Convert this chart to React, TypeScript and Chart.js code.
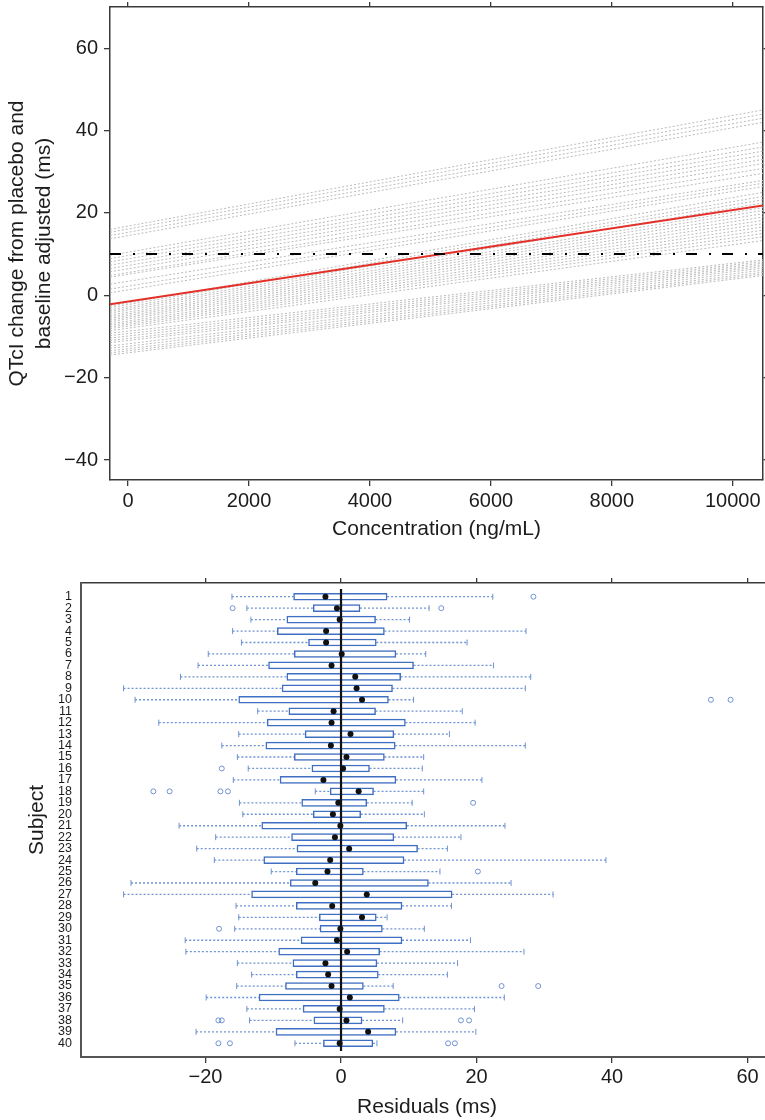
import React, { useEffect, useRef } from 'react';
import { Chart, registerables } from 'chart.js';

Chart.register(...registerables);

// ---------- Top panel data ----------
const concEnds = [-300, 10500];
const concTicks = [0, 2000, 4000, 6000, 8000, 10000];
const qtTicks = [-40, -20, 0, 20, 40, 60];
// individual subject regression lines: value at left end / right end of the concentration range
const grayLeft = [
  16.0, 15.3, 14.5, 13.7,
  9.7, 8.9, 8.1, 7.3, 6.5, 5.7, 4.8, 4.4,
  2.7, 1.5, 0.6,
  -2.6, -3.0, -3.5, -3.9, -4.3, -4.8, -5.2, -5.6, -6.0, -6.4, -6.9, -7.3, -7.7, -8.1, -8.6,
  -9.2, -9.8, -10.4, -11.0, -11.5, -12.3, -12.9, -13.5, -14.0, -14.5,
];
const grayRight = [
  45.0, 44.0, 43.0, 42.0,
  37.2, 36.0, 35.0, 34.0, 33.0, 32.0, 30.8, 29.6,
  27.9, 27.2, 26.4,
  25.0, 24.0, 23.2, 22.4, 21.3, 20.6, 19.8, 19.0, 18.2, 17.4, 16.6, 15.8, 15.0, 14.2, 13.3,
  8.6, 8.2, 7.8, 7.4, 7.0, 6.6, 6.1, 5.6, 5.2, 4.8,
];
const popLine = [-2.2, 21.8];
const thresholdLine = [10, 10];

// ---------- Bottom panel data ----------
const subjects = [
  1, 2, 3, 4, 5, 6, 7, 8, 9, 10, 11, 12, 13, 14, 15, 16, 17, 18, 19, 20,
  21, 22, 23, 24, 25, 26, 27, 28, 29, 30, 31, 32, 33, 34, 35, 36, 37, 38, 39, 40,
];
const whiskLo = [
  -16.1, -13.9, -13.3, -16.0, -14.7, -19.6, -21.1, -23.7, -32.1, -30.4,
  -12.3, -26.9, -15.1, -17.6, -15.3, -13.7, -15.9, -3.8, -15.0, -14.5,
  -23.9, -18.5, -21.3, -18.7, -10.3, -31.0, -32.1, -15.5, -15.1, -15.7,
  -23.0, -22.9, -15.3, -13.2, -15.4, -19.9, -13.9, -13.5, -21.4, -6.8,
];
const q1 = [
  -7.0, -4.1, -8.0, -9.4, -4.8, -6.9, -10.7, -8.0, -8.7, -15.1,
  -7.7, -10.9, -5.3, -11.1, -6.9, -4.3, -9.0, -1.6, -5.8, -4.1,
  -11.7, -7.3, -6.5, -11.4, -6.6, -7.5, -13.2, -6.6, -3.2, -3.1,
  -5.9, -9.2, -7.1, -6.6, -8.2, -12.1, -5.6, -4.0, -9.6, -2.6,
];
const medians = [
  -2.3, -0.6, -0.2, -2.2, -2.2, 0.1, -1.4, 2.1, 2.3, 3.1,
  -1.1, -1.4, 1.4, -1.5, 0.8, 0.3, -2.6, 2.6, -0.4, -1.2,
  -0.1, -0.9, 1.2, -1.6, -2.0, -3.8, 3.8, -1.3, 3.1, -0.1,
  -0.6, 0.9, -2.3, -1.9, -1.4, 1.3, -0.2, 0.8, 4.0, -0.2,
];
const q3 = [
  6.8, 2.8, 5.1, 6.4, 5.2, 8.1, 10.7, 8.8, 7.6, 7.0,
  5.1, 9.5, 7.8, 8.0, 6.4, 4.2, 8.1, 4.8, 3.8, 2.9,
  9.7, 7.8, 11.3, 9.3, 3.3, 12.9, 16.4, 9.0, 5.2, 6.1,
  9.0, 5.7, 5.3, 5.5, 3.3, 8.6, 6.4, 3.1, 8.1, 4.7,
];
const whiskHi = [
  22.4, 13.0, 10.1, 27.3, 18.6, 12.5, 22.5, 28.0, 27.2, 10.7,
  17.9, 19.8, 16.0, 27.2, 12.2, 12.0, 20.8, 12.2, 10.5, 12.3,
  24.2, 17.7, 15.7, 39.1, 14.6, 25.1, 31.3, 16.3, 6.8, 12.3,
  19.1, 27.0, 17.2, 15.7, 7.7, 24.1, 19.7, 9.1, 19.9, 5.3,
];
const outlierSubject = [1, 2, 2, 10, 10, 16, 18, 18, 18, 18, 19, 25, 30, 35, 35, 38, 38, 38, 38, 40, 40, 40, 40];
const outlierValue = [28.4, -16.0, 14.8, 54.6, 57.5, -17.6, -27.7, -25.3, -17.8, -16.7, 19.5, 20.2, -18.0, 23.7, 29.1, -18.1, -17.6, 17.7, 18.9, -18.1, -16.4, 15.8, 16.8];
const residTicks = [-20, 0, 20, 40, 60];

// ---------- styles ----------
const FONT = '"Liberation Sans", Arial, Helvetica, sans-serif';
const TXT = '#1c1c1c';
const AX = '#3a3a3a';
const BLUE = '#3f6fc2';
const BLUE_LIGHT = '#6f93d3';
const minus = (v: number) => (v < 0 ? '\u2212' + Math.abs(v) : String(v));

function setTicks(values: number[]) {
  return (s: any) => {
    s.ticks = values.map((v) => ({ value: v }));
  };
}

function fitTo(dim: 'width' | 'height', size: number) {
  return (s: any) => {
    s[dim] = size;
    s.paddingTop = 0;
    s.paddingBottom = 0;
    s.paddingLeft = 0;
    s.paddingRight = 0;
  };
}

function TopChart() {
  const ref = useRef<HTMLCanvasElement>(null);
  useEffect(() => {
    const grayDs = grayLeft.map((l, i) => ({
      type: 'line',
      data: [
        { x: concEnds[0], y: l },
        { x: concEnds[1], y: grayRight[i] },
      ],
      borderColor: '#bababa',
      borderWidth: 1,
      borderDash: [2, 2],
      pointRadius: 0,
      xAxisID: 'x',
      yAxisID: 'y',
      order: 3,
    }));
    const chart = new Chart(ref.current as HTMLCanvasElement, {
      type: 'line',
      data: {
        datasets: [
          {
            type: 'line',
            data: concEnds.map((c, i) => ({ x: c, y: thresholdLine[i] })),
            borderColor: '#000',
            borderWidth: 2,
            borderDash: [11, 12, 2, 11],
            pointRadius: 0,
            xAxisID: 'x',
            yAxisID: 'y',
            order: 0,
          },
          {
            type: 'line',
            data: concEnds.map((c, i) => ({ x: c, y: popLine[i] })),
            borderColor: '#e3312a',
            borderWidth: 2,
            pointRadius: 0,
            xAxisID: 'x',
            yAxisID: 'y',
            order: 1,
          },
          ...grayDs,
        ] as any,
      },
      options: {
        responsive: false,
        animation: false,
        events: [],
        layout: { padding: 0, autoPadding: false },
        plugins: { legend: { display: false }, tooltip: { enabled: false } },
        scales: {
          x: {
            type: 'linear',
            position: 'bottom',
            min: concEnds[0],
            max: concEnds[1],
            afterBuildTicks: setTicks(concTicks),
            afterFit: fitTo('height', 70),
            grid: { drawOnChartArea: false, drawTicks: true, tickLength: 6, color: AX, lineWidth: 1.3 },
            border: { display: true, color: AX, width: 1.5 },
            ticks: { font: { family: FONT, size: 20 }, color: TXT, padding: 3, maxRotation: 0, autoSkip: false, callback: (v: any) => minus(Number(v)) },
            title: { display: true, text: 'Concentration (ng/mL)', font: { family: FONT, size: 21 }, color: TXT, padding: { top: 0, bottom: 8 } },
          },
          x2: {
            type: 'linear',
            position: 'top',
            min: concEnds[0],
            max: concEnds[1],
            afterBuildTicks: setTicks(concTicks),
            afterFit: fitTo('height', 7),
            grid: { drawOnChartArea: false, drawTicks: true, tickLength: 5, color: AX, lineWidth: 1.3 },
            border: { display: true, color: AX, width: 1.5 },
            ticks: { display: true, callback: () => '', padding: 0 },
          },
          y: {
            type: 'linear',
            position: 'left',
            min: -44.85,
            max: 70,
            afterBuildTicks: setTicks(qtTicks),
            afterFit: fitTo('width', 110),
            grid: { drawOnChartArea: false, drawTicks: true, tickLength: 6, color: AX, lineWidth: 1.3 },
            border: { display: true, color: AX, width: 1.5 },
            ticks: { font: { family: FONT, size: 20 }, color: TXT, padding: 6, callback: (v: any) => minus(Number(v)) },
            title: {
              display: true,
              text: ['QTcI change from placebo and', 'baseline adjusted (ms)'],
              font: { family: FONT, size: 21, lineHeight: '27px' },
              color: TXT,
              padding: { top: 4, bottom: 0 },
            },
          },
          y2: {
            type: 'linear',
            position: 'right',
            min: -44.85,
            max: 70,
            afterBuildTicks: setTicks(qtTicks),
            afterFit: fitTo('width', 37),
            grid: { drawOnChartArea: false, drawTicks: true, tickLength: 5, color: AX, lineWidth: 1.3 },
            border: { display: true, color: AX, width: 1.5 },
            ticks: { display: true, callback: () => '', padding: 0 },
          },
        },
      } as any,
    });
    return () => chart.destroy();
  }, []);
  return <canvas ref={ref} width={800} height={550} style={{ position: 'absolute', left: 0, top: 0 }} />;
}

function BottomChart() {
  const ref = useRef<HTMLCanvasElement>(null);
  useEffect(() => {
    const whiskerData: any[] = [];
    subjects.forEach((s, i) => {
      whiskerData.push({ x: whiskLo[i], y: s }, { x: q1[i], y: s }, { x: null, y: null });
      whiskerData.push({ x: q3[i], y: s }, { x: whiskHi[i], y: s }, { x: null, y: null });
    });
    const capData: any[] = [];
    subjects.forEach((s, i) => {
      capData.push({ x: whiskLo[i], y: s }, { x: whiskHi[i], y: s });
    });
    const yMin = 0.32;
    const yMax = 40.68;
    const chart = new Chart(ref.current as HTMLCanvasElement, {
      type: 'scatter',
      data: {
        datasets: [
          {
            type: 'scatter',
            data: subjects.map((s, i) => ({ x: medians[i], y: s })),
            pointRadius: 3,
            pointBackgroundColor: '#111',
            pointBorderWidth: 0,
            backgroundColor: '#111',
            borderWidth: 0,
            xAxisID: 'x',
            yAxisID: 'y',
            order: 0,
          },
          {
            type: 'line',
            data: [
              { x: 0, y: yMin },
              { x: 0, y: yMax },
            ],
            borderColor: '#111',
            borderWidth: 2.2,
            pointRadius: 0,
            xAxisID: 'x',
            yAxisID: 'y',
            order: 1,
          },
          {
            type: 'scatter',
            data: outlierSubject.map((s, i) => ({ x: outlierValue[i], y: s })),
            pointStyle: 'circle',
            pointRadius: 2.5,
            pointBorderColor: BLUE_LIGHT,
            pointBackgroundColor: 'rgba(0,0,0,0)',
            pointBorderWidth: 1,
            borderColor: BLUE_LIGHT,
            backgroundColor: 'rgba(0,0,0,0)',
            xAxisID: 'x',
            yAxisID: 'y',
            order: 2,
          },
          {
            type: 'scatter',
            data: capData,
            pointStyle: 'line',
            pointRadius: 3,
            pointRotation: 90,
            rotation: 90,
            pointBorderColor: BLUE_LIGHT,
            borderColor: BLUE_LIGHT,
            pointBorderWidth: 1,
            xAxisID: 'x',
            yAxisID: 'y',
            order: 3,
          },
          {
            type: 'bar',
            indexAxis: 'y',
            data: subjects.map((s, i) => ({ y: s, x: [q1[i], q3[i]] })),
            backgroundColor: '#ffffff',
            borderColor: BLUE,
            borderWidth: 1.5,
            borderSkipped: false,
            barThickness: 7,
            xAxisID: 'x',
            yAxisID: 'y',
            order: 4,
          },
          {
            type: 'line',
            data: whiskerData,
            borderColor: BLUE_LIGHT,
            borderWidth: 1.3,
            borderDash: [2, 2],
            pointRadius: 0,
            spanGaps: false,
            xAxisID: 'x',
            yAxisID: 'y',
            order: 5,
          },
        ] as any,
      },
      options: {
        responsive: false,
        animation: false,
        events: [],
        layout: { padding: { left: 0, top: 0, bottom: 0, right: 27 }, autoPadding: false },
        plugins: { legend: { display: false }, tooltip: { enabled: false } },
        scales: {
          x: {
            type: 'linear',
            position: 'bottom',
            min: -38.38,
            max: 63.76,
            afterBuildTicks: setTicks(residTicks),
            afterFit: fitTo('height', 63),
            grid: { drawOnChartArea: false, drawTicks: true, tickLength: 6, color: AX, lineWidth: 1.3 },
            border: { display: true, color: '#555', width: 2 },
            ticks: { font: { family: FONT, size: 20 }, color: TXT, padding: 2.5, maxRotation: 0, autoSkip: false, callback: (v: any) => minus(Number(v)) },
            title: { display: true, text: 'Residuals (ms)', font: { family: FONT, size: 21 }, color: TXT, padding: { top: 0, bottom: 0.5 } },
          },
          x2: {
            type: 'linear',
            position: 'top',
            min: -38.38,
            max: 63.76,
            afterBuildTicks: setTicks(residTicks),
            afterFit: fitTo('height', 28),
            grid: { drawOnChartArea: false, drawTicks: true, tickLength: 5, color: AX, lineWidth: 1.3 },
            border: { display: true, color: AX, width: 1.5 },
            ticks: { display: true, callback: () => '', padding: 0 },
          },
          y: {
            type: 'linear',
            position: 'left',
            reverse: true,
            min: yMin,
            max: yMax,
            afterBuildTicks: setTicks(subjects),
            afterFit: fitTo('width', 81),
            grid: { drawOnChartArea: false, drawTicks: false },
            border: { display: true, color: '#555', width: 2 },
            ticks: { font: { family: FONT, size: 12.5 }, color: TXT, padding: 9, autoSkip: false },
            title: { display: true, text: 'Subject', font: { family: FONT, size: 21 }, color: TXT, padding: { top: 25, bottom: 0 } },
          },
        },
      } as any,
    });
    return () => chart.destroy();
  }, []);
  return <canvas ref={ref} width={800} height={565} style={{ position: 'absolute', left: 0, top: 555 }} />;
}

export default function App() {
  return (
    <div
      style={{
        position: 'fixed',
        left: 0,
        top: 0,
        width: 765,
        height: 1120,
        overflow: 'hidden',
        background: '#fff',
      }}
    >
      <TopChart />
      <BottomChart />
    </div>
  );
}
